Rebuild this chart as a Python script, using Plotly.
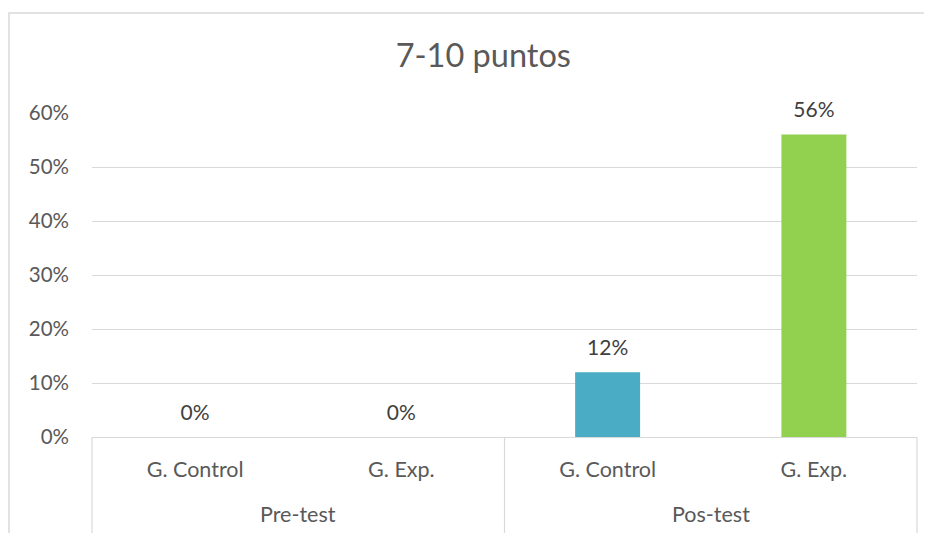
import plotly.graph_objects as go

# ---- data ----
groups = ["Pre-test", "Pre-test", "Pos-test", "Pos-test"]
categories = ["G. Control", "G. Exp.", "G. Control", "G. Exp."]
values = [0.0, 0.0, 0.12, 0.56]
bar_colors = ["#4BACC6", "#92D050", "#4BACC6", "#92D050"]
y_ticks = [0, 0.1, 0.2, 0.3, 0.4, 0.5, 0.6]
y_tick_labels = ["0%", "10%", "20%", "30%", "40%", "50%", "60%"]
title_text = "7-10 puntos"

FONT = "Lato, 'Open Sans', sans-serif"
GRID = "#D9D9D9"

# unique keys for each (group, category) pair; shown with category text
keys = [f"{g}|{c}" for g, c in zip(groups, categories)]

fig = go.Figure()
fig.add_trace(go.Bar(
    x=keys, y=values,
    marker=dict(color=bar_colors, line=dict(width=0)),
    width=0.315, hoverinfo="skip", showlegend=False,
))
fig.add_trace(go.Scatter(
    x=keys, y=values,
    mode="markers+text",
    text=[f"{round(v * 100)}%" for v in values],
    textposition="top center",
    textfont=dict(family=FONT, size=21, color="#404040"),
    marker=dict(size=18, color="rgba(0,0,0,0)"),
    cliponaxis=False, hoverinfo="skip", showlegend=False,
))

# group labels centred under their categories
annotations = []
unique_groups = list(dict.fromkeys(groups))
for g in unique_groups:
    idx = [i for i, gg in enumerate(groups) if gg == g]
    annotations.append(dict(
        x=sum(idx) / len(idx), xref="x", y=0, yref="paper",
        text=g, showarrow=False, yanchor="middle", yshift=-77,
        font=dict(family=FONT, size=21.5, color="#595959"),
    ))

shapes = []
# outer chart frame
shapes.append(dict(type="rect", xref="paper", yref="paper",
                   x0=-0.1006, x1=1.05, y0=-0.5, y1=1.3086,
                   line=dict(color=GRID, width=1.5), layer="below"))
# category group dividers
for xp in [0.0, 0.5, 1.0]:
    shapes.append(dict(type="line", xref="paper", yref="paper",
                       x0=xp, x1=xp, y0=0, y1=-0.4,
                       line=dict(color=GRID, width=1.2)))

fig.update_layout(
    width=932, height=533,
    margin=dict(l=84, r=23, t=105, b=104),
    paper_bgcolor="white", plot_bgcolor="white",
    title=dict(text=title_text, x=0.51, xref="container", xanchor="center",
               y=1 - 48 / 533, yref="container", yanchor="middle",
               font=dict(family=FONT, size=32.5, color="#595959")),
    font=dict(family=FONT, color="#595959"),
    shapes=shapes, annotations=annotations,
    bargap=0.685,
)
fig.update_yaxes(
    range=[0, 0.6], tickvals=y_ticks, ticktext=y_tick_labels,
    showgrid=True, gridcolor=GRID, gridwidth=1,
    zeroline=False, showline=False, ticks="",
    ticklabelstandoff=22,
    tickfont=dict(family=FONT, size=20.5, color="#595959"),
)
fig.update_xaxes(
    type="category", tickvals=keys, ticktext=categories,
    showline=True, linecolor=GRID, linewidth=1.2,
    showgrid=False, ticks="", ticklabelstandoff=13,
    tickfont=dict(family=FONT, size=21.5, color="#595959"),
)

fig.write_html("out.html")
